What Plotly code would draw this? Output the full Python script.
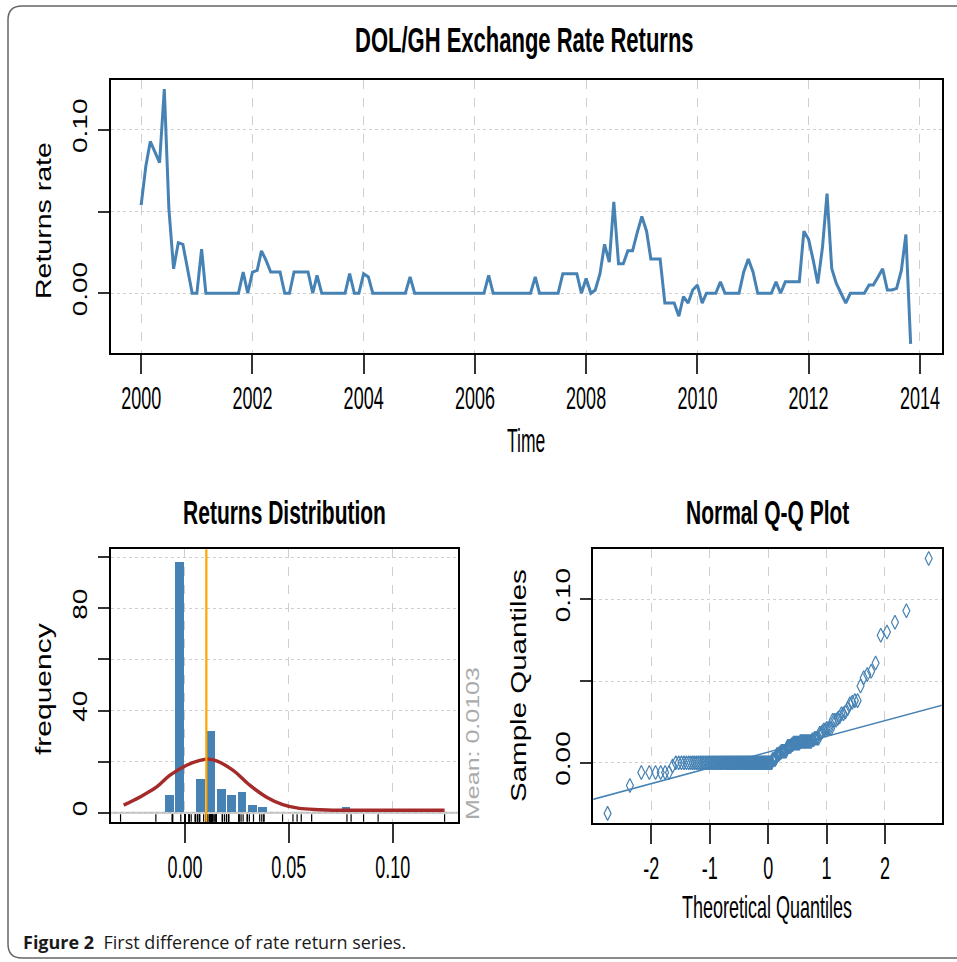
import json
import numpy as np
import pandas as pd
import plotly.graph_objects as go
from statistics import NormalDist

# ---------------- data ----------------
# monthly returns, Jan 2000 .. Nov 2013 (one row per year)
returns = [
    0.054, 0.078, 0.093, 0.086, 0.080, 0.125, 0.052, 0.015, 0.031, 0.030, 0.015, 0.000,
    0.000, 0.027, 0.000, 0.000, 0.000, 0.000, 0.000, 0.000, 0.000, 0.000, 0.013, 0.000,
    0.013, 0.014, 0.026, 0.020, 0.013, 0.013, 0.013, 0.000, 0.000, 0.013, 0.013, 0.013,
    0.013, 0.000, 0.011, 0.000, 0.000, 0.000, 0.000, 0.000, 0.000, 0.012, 0.000, 0.000,
    0.012, 0.010, 0.000, 0.000, 0.000, 0.000, 0.000, 0.000, 0.000, 0.000, 0.010, 0.000,
    0.000, 0.000, 0.000, 0.000, 0.000, 0.000, 0.000, 0.000, 0.000, 0.000, 0.000, 0.000,
    0.000, 0.000, 0.000, 0.011, 0.000, 0.000, 0.000, 0.000, 0.000, 0.000, 0.000, 0.000,
    0.000, 0.010, 0.000, 0.000, 0.000, 0.000, 0.000, 0.012, 0.012, 0.012, 0.012, 0.000,
    0.009, 0.000, 0.002, 0.012, 0.030, 0.019, 0.056, 0.018, 0.018, 0.026, 0.026, 0.037,
    0.047, 0.038, 0.021, 0.021, 0.021, -0.006, -0.006, -0.006, -0.014, -0.002, -0.006, 0.002,
    0.005, -0.006, 0.000, 0.000, 0.000, 0.007, 0.000, 0.000, 0.000, 0.000, 0.013, 0.021,
    0.013, 0.000, 0.000, 0.000, 0.000, 0.007, 0.000, 0.007, 0.007, 0.007, 0.007, 0.038,
    0.033, 0.020, 0.006, 0.028, 0.061, 0.015, 0.006, 0.000, -0.006, 0.000, 0.000, 0.000,
    0.000, 0.005, 0.005, 0.010, 0.015, 0.002, 0.002, 0.003, 0.014, 0.036, -0.031,
]
start_month = "2000-01-01"

# histogram (bin centres, counts)
hist_centers = [-0.0075, -0.0025, 0.0075, 0.0125, 0.0175, 0.0225, 0.0275, 0.0325, 0.0375, 0.0775]
hist_counts = [7, 98, 13, 32, 9, 7, 8, 3, 2, 2]

# fitted normal curve drawn over the histogram
dens_x = [-0.0295, -0.0216, -0.0136, -0.0072, 0.0008, 0.0072, 0.0112, 0.0152, 0.0232,
          0.0312, 0.0391, 0.0471, 0.0551, 0.0647, 0.0710, 0.0870, 0.1050, 0.1250]
dens_y = [3.0, 6.2, 10.1, 14.7, 18.6, 20.5, 21.0, 20.3, 16.6,
          10.8, 6.2, 3.2, 1.7, 1.2, 1.0, 1.0, 1.0, 1.0]
mean_value = 0.0103

top_yticks = [0.0, 0.05, 0.10]
top_ytext = ["0.00", "", "0.10"]
hist_xticks = [0.0, 0.05, 0.10]
hist_xtext = ["0.00", "0.05", "0.10"]
hist_yticks = [0, 20, 40, 60, 80, 100]
hist_ytext = ["0", "", "40", "", "80", ""]
qq_xticks = [-2, -1, 0, 1, 2]
qq_xtext = ["-2", "-1", "0", "1", "2"]

# ---------------- derived ----------------
dates = pd.date_range(start_month, periods=len(returns), freq="MS")
n = len(returns)
sample_sorted = sorted(returns)
nd = NormalDist()
theo = [nd.inv_cdf((i + 0.5) / n) for i in range(n)]
q1, q3 = np.percentile(returns, [25, 75])
z1, z3 = nd.inv_cdf(0.25), nd.inv_cdf(0.75)
slope = (q3 - q1) / (z3 - z1)
intercept = q1 - slope * z1
line_x = [-3.5, 3.5]
line_y = [intercept + slope * v for v in line_x]

# ---------------- styling ----------------
W, H = 957, 962
BLUE = "#4682B4"
SANS = "Liberation Sans, Arial, Helvetica, sans-serif"


def fx(p):
    return p / W


def fy(p):
    return 1 - p / H


fig = go.Figure()

fig.add_trace(go.Scatter(x=dates, y=returns, mode="lines",
                         line=dict(color=BLUE, width=3), xaxis="x", yaxis="y",
                         hoverinfo="skip"))

fig.add_trace(go.Bar(x=hist_centers, y=hist_counts, width=0.0042,
                     marker=dict(color=BLUE, line=dict(width=0)),
                     xaxis="x2", yaxis="y2"))
fig.add_trace(go.Scatter(x=dens_x, y=dens_y, mode="lines",
                         line=dict(color="#A52A2A", width=3.4, shape="spline"),
                         xaxis="x2", yaxis="y2"))
fig.add_trace(go.Scatter(x=returns, y=[-2.2] * n, mode="markers",
                         marker=dict(symbol="line-ns", size=6,
                                     line=dict(color="black", width=1.2)),
                         xaxis="x2", yaxis="y2"))

fig.add_trace(go.Scatter(x=line_x, y=line_y, mode="lines",
                         line=dict(color=BLUE, width=1.6), xaxis="x3", yaxis="y3"))
fig.add_trace(go.Scatter(x=theo, y=sample_sorted, mode="markers",
                         marker=dict(symbol="diamond-tall-open", size=10, color=BLUE,
                                     line=dict(color=BLUE, width=1.2)),
                         xaxis="x3", yaxis="y3"))

common = dict(showline=True, mirror=True, linecolor="black", linewidth=2,
              ticks="outside", tickcolor="#333333", tickwidth=1.5,
              zeroline=False, showgrid=True, gridcolor="#CFCFCF", gridwidth=1.3)
xfont = dict(family=SANS, size=18, color="black")
yfont = dict(family=SANS, size=28, color="black")

fig.update_layout(
    width=W, height=H, margin=dict(l=0, r=0, t=0, b=0),
    paper_bgcolor="white", plot_bgcolor="white", showlegend=False,
    xaxis=dict(domain=[fx(111), fx(942)], anchor="y", type="date",
               range=["1999-06-17", "2014-05-26"], tick0="2000-01-01", dtick="M24",
               tickformat="%Y", ticklen=19, griddash="dash", tickfont=xfont,
               ticklabelstandoff=9, **common),
    yaxis=dict(domain=[fy(352.7), fy(80)], anchor="x", range=[-0.0364, 0.1306],
               tickvals=top_yticks, ticktext=top_ytext, tickangle=-90, ticklen=11,
               griddash="dot", tickfont=yfont, ticklabelstandoff=-3, **common),
    xaxis2=dict(domain=[fx(111), fx(458.3)], anchor="y2", range=[-0.0356, 0.1316],
                tickvals=hist_xticks, ticktext=hist_xtext, ticklen=19, griddash="dash",
                tickfont=xfont, ticklabelstandoff=9, **common),
    yaxis2=dict(domain=[fy(821.7), fy(549.3)], anchor="x2", range=[-3.5, 103.1],
                tickvals=hist_yticks, ticktext=hist_ytext, tickangle=-90, ticklen=11,
                griddash="dot", tickfont=yfont, ticklabelstandoff=-3, **common),
    xaxis3=dict(domain=[fx(593.3), fx(941.7)], anchor="y3", range=[-2.993, 2.971],
                tickvals=qq_xticks, ticktext=qq_xtext, ticklen=19, griddash="dash",
                tickfont=xfont, ticklabelstandoff=9, **common),
    yaxis3=dict(domain=[fy(822.7), fy(549.3)], anchor="x3", range=[-0.0367, 0.1306],
                tickvals=top_yticks, ticktext=top_ytext, tickangle=-90, ticklen=11,
                griddash="dot", tickfont=yfont, ticklabelstandoff=-3, **common),
    bargap=0,
)

# zero line and mean line on the histogram
fig.add_shape(type="line", xref="x2 domain", yref="y2", x0=0, x1=1, y0=0, y1=0,
              line=dict(color="#BDBDBD", width=2), layer="below")
fig.add_shape(type="line", xref="x2", yref="y2 domain", x0=mean_value, x1=mean_value,
              y0=0, y1=1, line=dict(color="#FFA500", width=2.2))


# rounded figure frame
def P(x, y):
    return f"{fx(x):.5f},{fy(y):.5f}"


frame = (f"M {P(970, 6)} L {P(22, 6)} Q {P(8, 6)} {P(8, 20)} "
         f"L {P(8, 944)} Q {P(8, 958)} {P(22, 958)} L {P(970, 958)}")
fig.add_shape(type="path", xref="paper", yref="paper", path=frame,
              line=dict(color="#666666", width=1.5))


def ann(text, x, y, size, family=SANS, angle=0, color="black", xanchor="center"):
    fig.add_annotation(text=text, x=fx(x), y=fy(y), xref="paper", yref="paper",
                       showarrow=False, textangle=angle, xanchor=xanchor, yanchor="middle",
                       font=dict(family=family, size=size, color=color))


ann("<b>DOL/GH Exchange Rate Returns</b>", 524, 41, 22)
ann("Time", 526, 441, 17.5)
ann("Returns rate", 44, 221, 28.5, angle=-90)
ann("<b>Returns Distribution</b>", 284, 512, 21)
ann("<b>Normal Q-Q Plot</b>", 767, 512, 21)
ann("frequency", 43, 689, 30, angle=-90)
ann("Sample Quantiles", 518, 686, 29.5, angle=-90)
ann(f"Mean: {mean_value:.4f}", 472, 744, 25, angle=-90, color="#ABABAB")
ann("Theoretical Quantiles", 767, 908, 18)
ann("<b>Figure 2</b>\u00a0\u00a0First difference of rate return series.", 21, 942, 18,
    family="Open Sans, Noto Sans, sans-serif", xanchor="left", color="#1a1a1a")

# The source image is a horizontally squeezed R graphic: horizontal text is tall
# and narrow, rotated text is thin.  Scale each label along its own vertical
# direction about its centre (>1 stretches, <1 thins).
xtick_scale = 1.75
ytick_scale = 0.75
ann_scale = {
    "DOL/GH Exchange Rate Returns": 1.6,
    "Returns Distribution": 1.6,
    "Normal Q-Q Plot": 1.6,
    "Time": 1.85,
    "Theoretical Quantiles": 1.7,
    "Returns rate": 0.75,
    "frequency": 0.75,
    "Sample Quantiles": 0.75,
    "Mean: 0.0103": 0.75,
}
post_js = """
var gd = document.getElementById('{plot_id}');
var ANN = %s;
var XT = %s;
var YT = %s;
function scaleOne(t, s) {
  var cur = t.getAttribute('transform') || '';
  if (cur.indexOf('scale(1,') >= 0) return;
  var b = t.getBBox();
  var cy = b.y + b.height / 2;
  t.setAttribute('transform', cur + ' translate(0,' + cy + ') scale(1,' + s + ') translate(0,' + (-cy) + ')');
}
function scaleAll() {
  gd.querySelectorAll('g.xtick > text, g.x2tick > text, g.x3tick > text').forEach(function (t) {
    scaleOne(t, XT);
  });
  gd.querySelectorAll('g.ytick > text, g.y2tick > text, g.y3tick > text').forEach(function (t) {
    scaleOne(t, YT);
  });
  gd.querySelectorAll('text.annotation-text').forEach(function (t) {
    var key = (t.textContent || '').replace(/\\u00a0/g, ' ').trim();
    if (ANN.hasOwnProperty(key)) scaleOne(t, ANN[key]);
  });
}
scaleAll();
if (gd.on) gd.on('plotly_afterplot', scaleAll);
""" % (json.dumps(ann_scale), json.dumps(xtick_scale), json.dumps(ytick_scale))

fig.write_html("out.html", post_script=post_js)
